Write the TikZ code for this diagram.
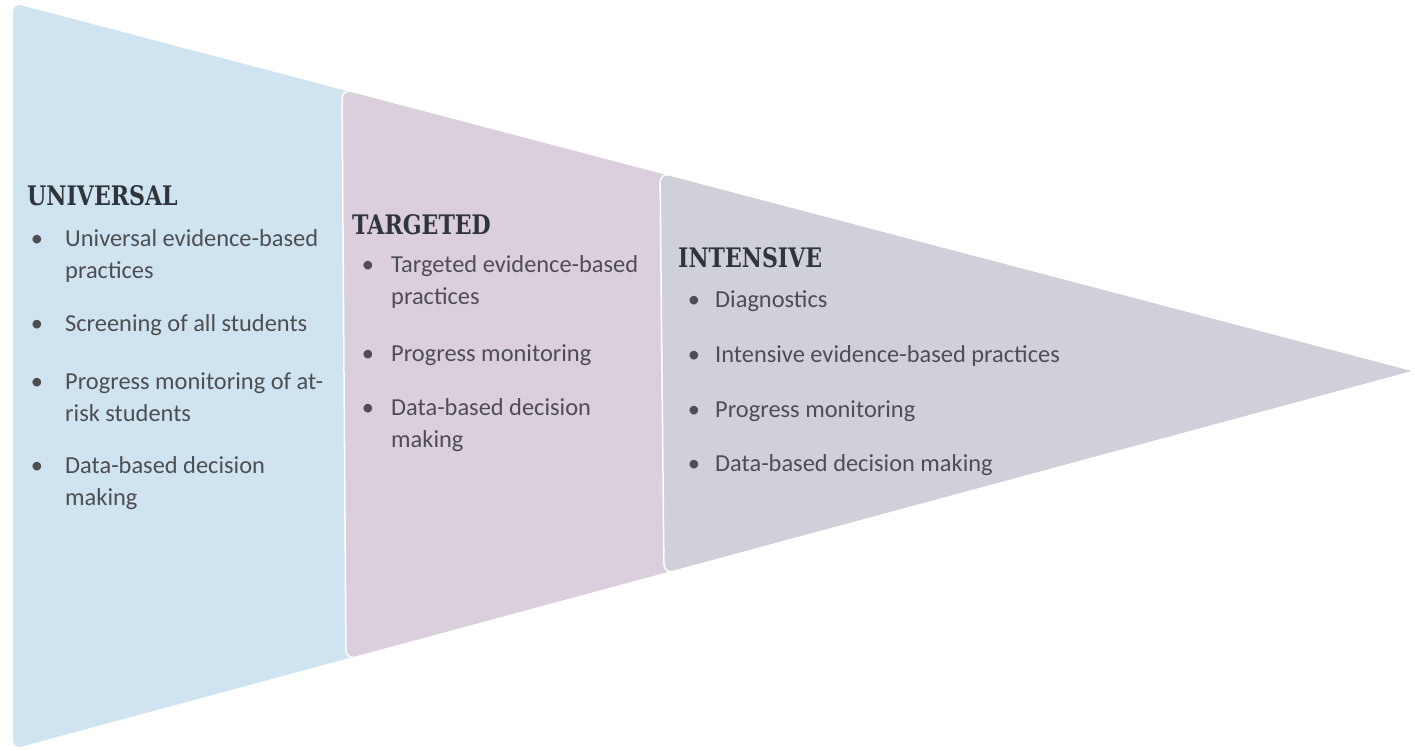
\documentclass[tikz,border=0pt]{standalone}
\usepackage{fontspec}
\setmainfont{Carlito}
\newfontfamily\titlefont[FakeStretch=0.82]{DejaVu Serif}
\usetikzlibrary{calc}
\definecolor{ublue}{HTML}{CFE4F0}
\definecolor{tmauve}{HTML}{DBCEDD}
\definecolor{igrey}{HTML}{CFD0DA}
\definecolor{titlecol}{HTML}{30353C}
\definecolor{bodycol}{HTML}{4E4E52}
\newcommand{\itemtext}[1]{\parbox[t]{420bp}{#1}}
\begin{document}
\begin{tikzpicture}[x=1bp,y=-1bp,
  ttl/.style={anchor=base west, inner sep=0pt, font=\titlefont\bfseries\fontsize{27}{30}\selectfont, text=titlecol},
  itm/.style={anchor=base west, inner sep=0pt, font=\fontsize{24.5}{32.5}\selectfont, text=bodycol},
  bul/.style={anchor=base, inner sep=0pt, font=\fontsize{24.5}{26}\selectfont, text=bodycol},
  panel/.style={draw=white, line width=1.5bp}]
\useasboundingbox (0,0) rectangle (1415,750);
\coordinate (TL) at (12,2);
\coordinate (BL) at (12,750);
\coordinate (Tip) at (1415,371);
\coordinate (T2) at ($(TL)!0.23521!(Tip)$);
\coordinate (B2) at ($(BL)!0.23806!(Tip)$);
\coordinate (T3) at ($(TL)!0.46187!(Tip)$);
\coordinate (B3) at ($(BL)!0.46472!(Tip)$);
% panels
\path[panel, fill=ublue] (Tip) -- ($(TL)!0.5!(Tip)$) [rounded corners=10bp] -- (TL) -- (BL) -- ($(BL)!0.5!(Tip)$) [sharp corners] -- cycle;
\path[panel, fill=tmauve] (Tip) -- ($(T2)!0.5!(Tip)$) [rounded corners=10bp] -- (T2) -- (B2) -- ($(B2)!0.5!(Tip)$) [sharp corners] -- cycle;
\path[panel, fill=igrey] (Tip) -- ($(T3)!0.5!(Tip)$) [rounded corners=10bp] -- (T3) -- (B3) -- ($(B3)!0.5!(Tip)$) [sharp corners] -- cycle;
% universal
\node[ttl] (ut) at (27,205) {UNIVERSAL};
\node[bul] (ub1) at (37,246) {•};
\node[itm] (u1) at (65,246) {\itemtext{Universal evidence-based\\practices}};
\node[bul] (ub2) at (37,331) {•};
\node[itm] (u2) at (65,331) {\itemtext{Screening of all students}};
\node[bul] (ub3) at (37,389) {•};
\node[itm] (u3) at (65,389) {\itemtext{Progress monitoring of at-\\risk students}};
\node[bul] (ub4) at (37,473) {•};
\node[itm] (u4) at (65,473) {\itemtext{Data-based decision\\making}};
% targeted
\node[ttl] (tt) at (352,234) {TARGETED};
\node[bul] (tb1) at (368,272) {•};
\node[itm] (t1) at (391,272) {\itemtext{Targeted evidence-based\\practices}};
\node[bul] (tb2) at (368,361) {•};
\node[itm] (t2) at (391,361) {\itemtext{Progress monitoring}};
\node[bul] (tb3) at (368,415) {•};
\node[itm] (t3) at (391,415) {\itemtext{Data-based decision\\making}};
% intensive
\node[ttl] (it) at (678,267) {INTENSIVE};
\node[bul] (ib1) at (694,307) {•};
\node[itm] (i1) at (715,307) {\itemtext{Diagnostics}};
\node[bul] (ib2) at (694,362) {•};
\node[itm] (i2) at (715,362) {\itemtext{Intensive evidence-based practices}};
\node[bul] (ib3) at (694,417) {•};
\node[itm] (i3) at (715,417) {\itemtext{Progress monitoring}};
\node[bul] (ib4) at (694,471) {•};
\node[itm] (i4) at (715,471) {\itemtext{Data-based decision making}};
\end{tikzpicture}
\end{document}
